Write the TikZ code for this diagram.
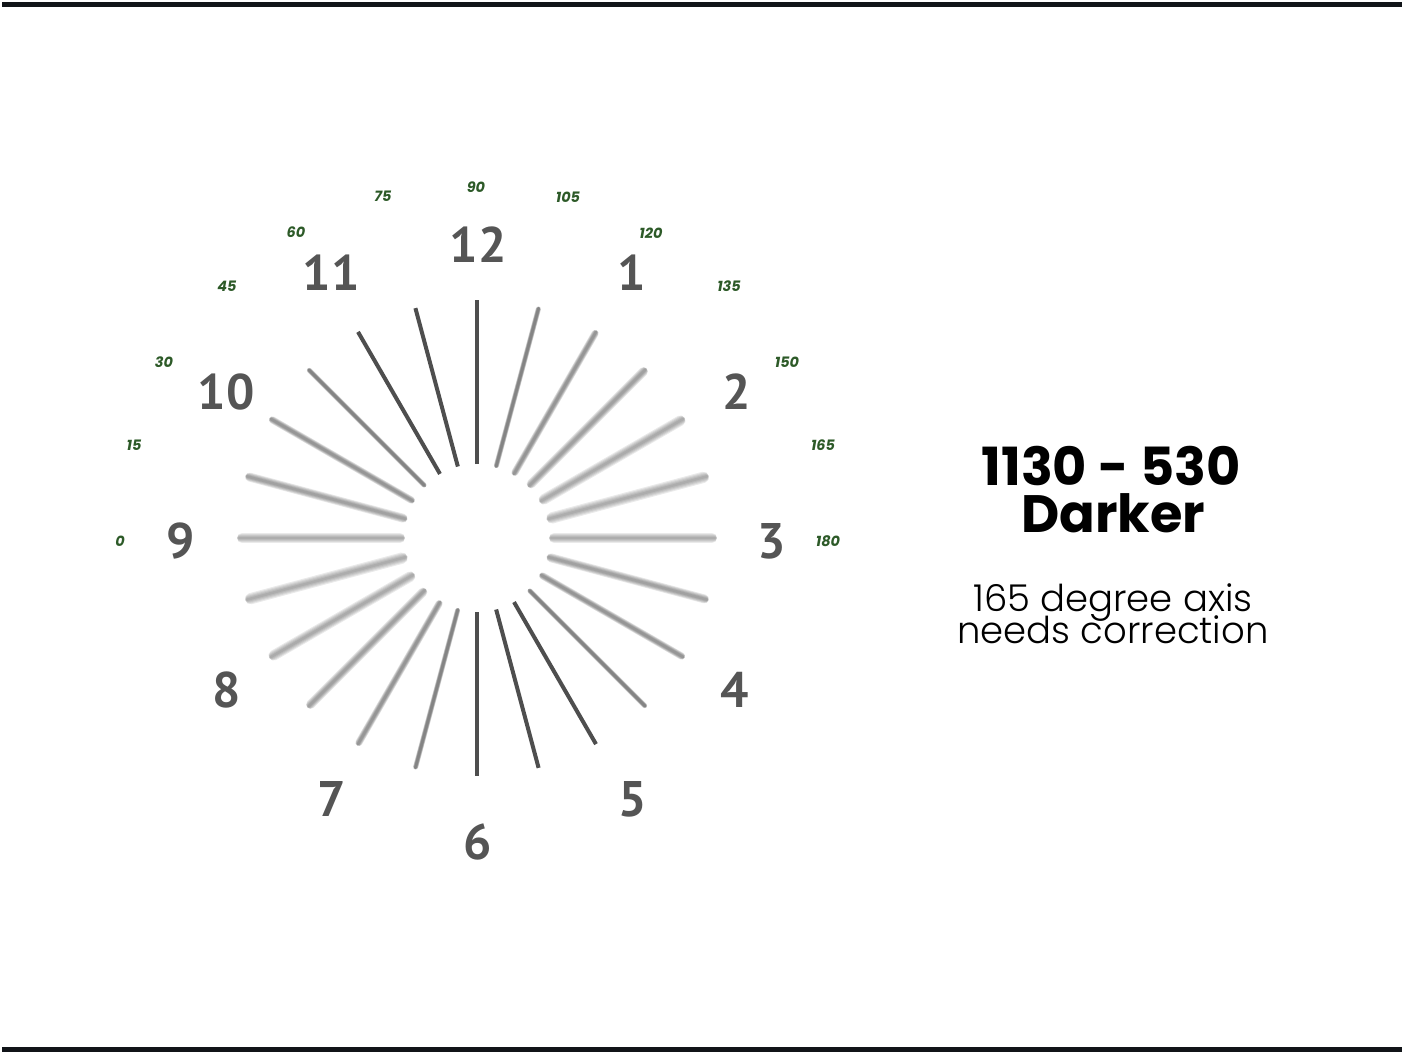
\documentclass[tikz,border=0pt]{standalone}
\usepackage{fontspec}
\setmainfont{Poppins}
\newfontfamily\clockfont{PT Sans}
\newfontfamily\poplight{Poppins Light}
\definecolor{barcol}{HTML}{111418}
\definecolor{linecol}{HTML}{4E4E4E}
\definecolor{numcol}{HTML}{555555}
\definecolor{degcol}{HTML}{2D5A28}
\tikzset{
  clocknum/.style={anchor=base, text=numcol, inner sep=0pt, font=\clockfont\bfseries\fontsize{25}{25}\selectfont},
  deglabel/.style={anchor=base, text=degcol, inner sep=0pt, font=\bfseries\itshape\fontsize{7.2}{7.2}\selectfont},
  titletext/.style={anchor=base, text=black, inner sep=0pt, text height=0.72em, text depth=0pt, font=\bfseries\fontsize{26.3}{26.3}\selectfont},
  subtext/.style={anchor=base, text=black, inner sep=0pt, text height=0.72em, text depth=0.1em, font=\poplight\fontsize{18.5}{18.5}\selectfont},
  bar/.style={fill=barcol, draw=none}
}
\begin{document}
\begin{tikzpicture}[x=0.5pt,y=-0.5pt]
\useasboundingbox (0,0) rectangle (1404,1054);
% frame bars
\fill[bar] (2,2) rectangle (1402,7);
\fill[bar] (2,1047) rectangle (1402,1052);
% radial lines with blur
\foreach \t/\R in {0/0, 15/1.3, 30/2.3, 45/3.2, 60/4, 75/4.4, 90/4.2, 105/3.2, 120/2.3, 135/1.3, 150/0, 165/0, 180/0, 195/1.3, 210/2.3, 225/3.2, 240/4, 255/4.4, 270/4.2, 285/3.2, 300/2.3, 315/1.3, 330/0, 345/0}{
  \ifdim \R pt=0pt
    \draw[line width=2pt, linecol] ({477+74*sin(\t)},{538-74*cos(\t)}) -- ({477+238*sin(\t)},{538-238*cos(\t)});
  \else
    \pgfmathsetmacro\sumw{12.5+5*\R}
    \pgfmathsetmacro\al{min(1,4/\sumw)}
    \foreach \j in {0,...,4}{
      \pgfmathsetmacro\w{2.5+\j*\R/2}
      \pgfmathsetmacro\lw{\w*0.5}
      \pgfmathsetmacro\sh{(\w-2.5)*0.4}
      \draw[line width=\lw pt, linecol, opacity=\al, line cap=round]
        ({477+(74+\sh)*sin(\t)},{538-(74+\sh)*cos(\t)}) -- ({477+(238-\sh)*sin(\t)},{538-(238-\sh)*cos(\t)});
    }
  \fi
}
% clock numbers
\node[clocknum] (n12) at (478,263) {12};
\node[clocknum] (n1) at (632,290) {1};
\node[clocknum] (n2) at (737,409) {2};
\node[clocknum] (n3) at (772,558) {3};
\node[clocknum] (n4) at (735,707) {4};
\node[clocknum] (n5) at (633,816) {5};
\node[clocknum] (n6) at (478,859) {6};
\node[clocknum] (n7) at (332,816) {7};
\node[clocknum] (n8) at (227,707) {8};
\node[clocknum] (n9) at (181,558) {9};
\node[clocknum] (n10) at (226,409) {10};
\node[clocknum] (n11) at (331,290) {11};
% degree labels
\node[deglabel] (d0) at (120,546) {0};
\node[deglabel] (d15) at (134,450) {15};
\node[deglabel] (d30) at (164,367) {30};
\node[deglabel] (d45) at (227,292) {45};
\node[deglabel] (d60) at (296,237) {60};
\node[deglabel] (d75) at (383,202) {75};
\node[deglabel] (d90) at (476,192) {90};
\node[deglabel] (d105) at (568,203) {105};
\node[deglabel] (d120) at (651,239) {120};
\node[deglabel] (d135) at (729,292) {135};
\node[deglabel] (d150) at (787,367) {150};
\node[deglabel] (d165) at (823,450) {165};
\node[deglabel] (d180) at (828,546) {180};
% right text
\node[titletext] (t1) at (1111,485) {1130 - 530~};
\node[titletext] (t2) at (1113,532) {Darker};
\node[subtext] (s1) at (1113,611) {165 degree axis};
\node[subtext] (s2) at (1113,643) {needs correction};
\end{tikzpicture}
\end{document}
